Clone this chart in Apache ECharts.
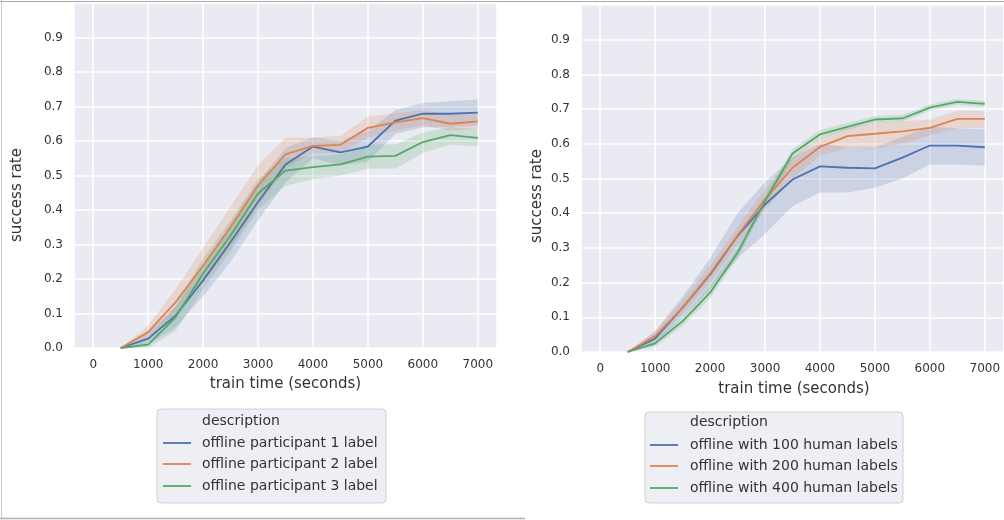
<!DOCTYPE html>
<html>
<head>
<meta charset="utf-8">
<script src="https://cdn.jsdelivr.net/npm/echarts@6/dist/echarts.min.js"></script>
<style>
  html, body { margin: 0; padding: 0; background: #fff; }
  #chart { width: 1004px; height: 520px; }
</style>
</head>
<body>
<div id="chart"></div>
<script>
// Training time (seconds) at which success rate was evaluated
const trainTime = [500, 1000, 1500, 2000, 2500, 3000, 3500, 4000, 4500, 5000, 5500, 6000, 6500, 7000];

// Left panel: labels from individual participants
const leftNames = ['offline participant 1 label', 'offline participant 2 label', 'offline participant 3 label'];
const p1Mean = [0, 0.027, 0.094, 0.196, 0.307, 0.423, 0.532, 0.584, 0.567, 0.584, 0.659, 0.679, 0.679, 0.682];
const p1Low  = [0, 0.010, 0.060, 0.150, 0.250, 0.370, 0.480, 0.550, 0.530, 0.540, 0.620, 0.640, 0.640, 0.645];
const p1High = [0, 0.045, 0.120, 0.240, 0.360, 0.480, 0.580, 0.610, 0.600, 0.630, 0.690, 0.710, 0.715, 0.720];
const p2Mean = [0, 0.046, 0.133, 0.239, 0.350, 0.471, 0.561, 0.586, 0.589, 0.638, 0.654, 0.666, 0.650, 0.657];
const p2Low  = [0, 0.025, 0.100, 0.190, 0.290, 0.410, 0.520, 0.565, 0.565, 0.610, 0.630, 0.645, 0.630, 0.635];
const p2High = [0, 0.065, 0.170, 0.290, 0.410, 0.530, 0.610, 0.610, 0.615, 0.670, 0.680, 0.690, 0.675, 0.680];
const p3Mean = [0, 0.010, 0.089, 0.216, 0.326, 0.448, 0.514, 0.524, 0.532, 0.555, 0.557, 0.597, 0.617, 0.609];
const p3Low  = [0, 0.000, 0.050, 0.170, 0.280, 0.400, 0.470, 0.490, 0.500, 0.520, 0.520, 0.565, 0.590, 0.585];
const p3High = [0, 0.030, 0.120, 0.260, 0.370, 0.490, 0.550, 0.555, 0.560, 0.590, 0.590, 0.625, 0.640, 0.635];

// Right panel: number of human labels
const rightNames = ['offline with 100 human labels', 'offline with 200 human labels', 'offline with 400 human labels'];
const h100Mean = [0, 0.039, 0.128, 0.223, 0.334, 0.425, 0.497, 0.535, 0.531, 0.529, 0.560, 0.595, 0.595, 0.590];
const h100Low  = [0, 0.020, 0.100, 0.180, 0.270, 0.340, 0.420, 0.460, 0.460, 0.473, 0.500, 0.540, 0.540, 0.537];
const h100High = [0, 0.060, 0.160, 0.270, 0.400, 0.490, 0.560, 0.600, 0.590, 0.589, 0.620, 0.649, 0.645, 0.641];
const h200Mean = [0, 0.046, 0.128, 0.226, 0.336, 0.440, 0.531, 0.591, 0.622, 0.629, 0.636, 0.646, 0.672, 0.672];
const h200Low  = [0, 0.030, 0.110, 0.200, 0.310, 0.410, 0.500, 0.565, 0.590, 0.585, 0.600, 0.625, 0.645, 0.645];
const h200High = [0, 0.060, 0.150, 0.250, 0.360, 0.470, 0.560, 0.615, 0.645, 0.660, 0.665, 0.670, 0.695, 0.695];
const h400Mean = [0, 0.025, 0.089, 0.171, 0.286, 0.435, 0.572, 0.627, 0.649, 0.670, 0.673, 0.704, 0.721, 0.715];
const h400Low  = [0, 0.015, 0.075, 0.155, 0.270, 0.420, 0.555, 0.615, 0.640, 0.660, 0.663, 0.695, 0.712, 0.706];
const h400High = [0, 0.035, 0.100, 0.190, 0.300, 0.450, 0.585, 0.640, 0.660, 0.680, 0.683, 0.713, 0.730, 0.724];

const palette = ['#4c72b0', '#dd8452', '#55a868'];
const FONT = 'DejaVu Sans';
const TEXT = '#333333';

const chart = echarts.init(document.getElementById('chart'), null, { renderer: 'canvas' });

function xAxisFor(gridIndex) {
  return {
    type: 'value', gridIndex, min: -350, max: 7350, splitNumber: 8,
    axisLine: { show: false }, axisTick: { show: false },
    axisLabel: { color: TEXT, fontFamily: FONT, fontSize: 12, margin: 11, showMinLabel: false, showMaxLabel: false,
      formatter: v => String(v) },
    splitLine: { show: true, lineStyle: { color: '#ffffff', width: 1.5 } }
  };
}
function yAxisFor(gridIndex) {
  return {
    type: 'value', gridIndex, min: 0, max: 1, interval: 0.1,
    axisLine: { show: false }, axisTick: { show: false },
    axisLabel: { color: TEXT, fontFamily: FONT, fontSize: 12, margin: 11, showMaxLabel: false,
      formatter: v => v.toFixed(1) },
    splitLine: { show: true, lineStyle: { color: '#ffffff', width: 1.5 } }
  };
}

// Shaded confidence band drawn as one polygon through the axis scales
function band(gridIndex, low, high, color) {
  return {
    type: 'custom', xAxisIndex: gridIndex, yAxisIndex: gridIndex, silent: true,
    data: [[trainTime[0], low[0]]],
    renderItem: (params, api) => {
      const pts = [];
      for (let i = 0; i < trainTime.length; i++) pts.push(api.coord([trainTime[i], high[i]]));
      for (let i = trainTime.length - 1; i >= 0; i--) pts.push(api.coord([trainTime[i], low[i]]));
      return { type: 'polygon', shape: { points: pts }, style: { fill: color, opacity: 0.2 } };
    }
  };
}
function line(gridIndex, name, mean, color) {
  return {
    type: 'line', name, xAxisIndex: gridIndex, yAxisIndex: gridIndex,
    data: trainTime.map((t, i) => [t, mean[i]]),
    symbol: 'none', showSymbol: false,
    lineStyle: { color, width: 1.8 }, itemStyle: { color }
  };
}

// Legend box with a title, drawn as graphic elements
function legendBox(x, y, w, h, textX, lineX0, lineX1, rows, names) {
  const els = [{
    type: 'rect', shape: { x, y, width: w, height: h, r: 4 },
    style: { fill: 'rgba(234,234,242,0.8)', stroke: '#d0d0d0', lineWidth: 1 }
  }, {
    type: 'text', x: textX, y: rows[0],
    style: { text: 'description', fill: TEXT, font: '14px "' + FONT + '"', verticalAlign: 'middle' }
  }];
  names.forEach((n, i) => {
    els.push({ type: 'line', shape: { x1: lineX0, y1: rows[i + 1], x2: lineX1, y2: rows[i + 1] },
      style: { stroke: palette[i], lineWidth: 1.8 } });
    els.push({ type: 'text', x: textX, y: rows[i + 1],
      style: { text: n, fill: TEXT, font: '14px "' + FONT + '"', verticalAlign: 'middle' } });
  });
  return els;
}

const titleFont = '15px "' + FONT + '"';
const graphics = [
  // frame lines
  { type: 'line', shape: { x1: 0, y1: 1.5, x2: 1004, y2: 1.5 }, style: { stroke: '#a8a8a8', lineWidth: 1 }, z: 10 },
  { type: 'line', shape: { x1: 1.5, y1: 0, x2: 1.5, y2: 519 }, style: { stroke: '#c8c8c8', lineWidth: 1 }, z: 10 },
  { type: 'line', shape: { x1: 0, y1: 518.5, x2: 525, y2: 518.5 }, style: { stroke: '#b0b0b0', lineWidth: 1.5 }, z: 10 },
  // axis titles
  { type: 'text', x: 285.5, y: 384, style: { text: 'train time (seconds)', fill: TEXT, font: titleFont, align: 'center', verticalAlign: 'middle' } },
  { type: 'text', x: 794, y: 389, style: { text: 'train time (seconds)', fill: TEXT, font: titleFont, align: 'center', verticalAlign: 'middle' } },
  { type: 'text', x: 17, y: 195, rotation: Math.PI / 2, style: { text: 'success rate', fill: TEXT, font: titleFont, align: 'center', verticalAlign: 'middle' } },
  { type: 'text', x: 537, y: 196, rotation: Math.PI / 2, style: { text: 'success rate', fill: TEXT, font: titleFont, align: 'center', verticalAlign: 'middle' } }
].concat(
  legendBox(157, 409, 229, 94, 202, 163, 191, [421, 443, 464, 486], leftNames),
  legendBox(645, 412, 258, 91, 690, 650, 678, [422, 445, 466, 488], rightNames)
);

chart.setOption({
  animation: false,
  backgroundColor: '#ffffff',
  grid: [
    { left: 74, top: 3, width: 423, height: 345, show: true, backgroundColor: '#eaeaf2', borderWidth: 0 },
    { left: 581, top: 5, width: 426, height: 347, show: true, backgroundColor: '#eaeaf2', borderWidth: 0 }
  ],
  xAxis: [xAxisFor(0), xAxisFor(1)],
  yAxis: [yAxisFor(0), yAxisFor(1)],
  series: [
    band(0, p1Low, p1High, palette[0]), line(0, leftNames[0], p1Mean, palette[0]),
    band(0, p2Low, p2High, palette[1]), line(0, leftNames[1], p2Mean, palette[1]),
    band(0, p3Low, p3High, palette[2]), line(0, leftNames[2], p3Mean, palette[2]),
    band(1, h100Low, h100High, palette[0]), line(1, rightNames[0], h100Mean, palette[0]),
    band(1, h200Low, h200High, palette[1]), line(1, rightNames[1], h200Mean, palette[1]),
    band(1, h400Low, h400High, palette[2]), line(1, rightNames[2], h400Mean, palette[2])
  ],
  graphic: graphics
});
</script>
</body>
</html>
